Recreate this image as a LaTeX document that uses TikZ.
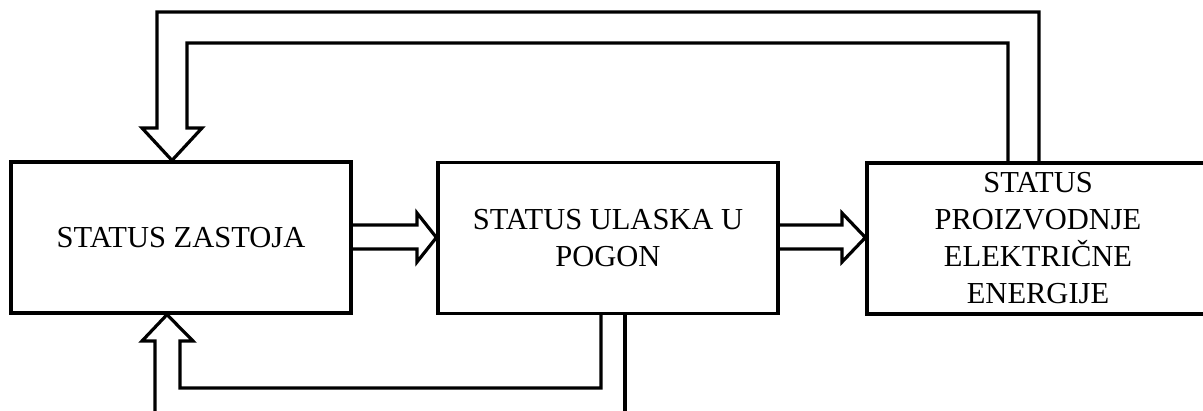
\documentclass[tikz,border=0pt]{standalone}
\usepackage{fontspec}
\setmainfont{Liberation Serif}
\usetikzlibrary{calc}
\begin{document}
\begin{tikzpicture}[x=1pt,y=-1pt,
  box/.style={draw, line width=3.2pt, minimum width=340pt, minimum height=151pt, inner sep=0pt, align=center, font=\fontsize{30.5}{37}\selectfont},
  blk/.style={draw, line width=3.2pt, line join=miter}]
\useasboundingbox (0,0) rectangle (1203,410);
\clip (0,0) rectangle (1203,410);
\node[box] (b1) at (181,237.5) {STATUS ZASTOJA};
\node[box] (b2) at (608,238) {STATUS ULASKA U\\POGON};
\node[box, minimum width=342pt] (b3) at (1038,238.5) {STATUS\\PROIZVODNJE\\ELEKTRIČNE\\ENERGIJE};
% arrow b1 -> b2
\draw[blk] (b1.east |- 0,225) -- (417,225) -- (417,213) -- (b2.west |- 0,237.5) -- (417,262) -- (417,249) -- (b1.east |- 0,249);
% arrow b2 -> b3
\draw[blk] (b2.east |- 0,225) -- (842,225) -- (842,213) -- (b3.west |- 0,237.5) -- (842,262) -- (842,249) -- (b2.east |- 0,249);
% feedback b3 -> b1 (top)
\draw[blk] (b3.north -| 1039,0) -- (1039,12) -- (157,12) -- (157,128) -- (142,128) -- (b1.north -| 172,0) -- (202,128) -- (187,128) -- (187,43) -- (1008,43) -- (b3.north -| 1008,0);
% feedback b2 -> b1 (bottom)
\draw[blk] (155,416) -- (155,341) -- (142,341) -- (b1.south -| 167,0) -- (193,341) -- (180,341) -- (180,388) -- (601,388) -- (b2.south -| 601,0);
\draw[blk] (b2.south -| 625,0) -- (625,416);
\end{tikzpicture}
\end{document}
